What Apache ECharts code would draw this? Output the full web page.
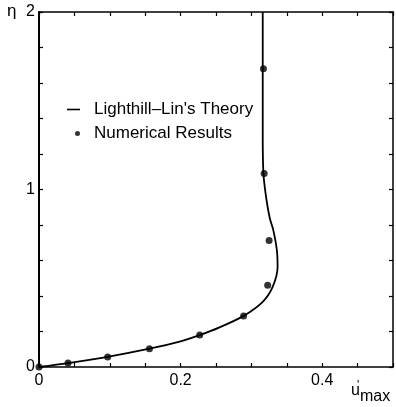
<!DOCTYPE html>
<html>
<head>
<meta charset="utf-8">
<script src="https://cdn.jsdelivr.net/npm/echarts@6/dist/echarts.min.js"></script>
<style>
  html, body { margin: 0; padding: 0; background: #fff; }
  #chart { width: 396px; height: 407px; }
</style>
</head>
<body>
<div id="chart"></div>
<script>
// Lighthill-Lin theory curve (u'max vs eta)
const theoryU = [0, 0.041, 0.093, 0.156, 0.200, 0.226, 0.255, 0.289, 0.316, 0.330, 0.337, 0.336, 0.331, 0.326, 0.321, 0.317, 0.316, 0.316, 0.316];
const theoryEta = [0, 0.022, 0.054, 0.103, 0.145, 0.178, 0.223, 0.288, 0.367, 0.451, 0.563, 0.657, 0.770, 0.838, 0.950, 1.090, 1.310, 1.690, 2.000];

// numerical results (dots)
const numU = [0, 0.041, 0.097, 0.156, 0.227, 0.289, 0.323, 0.325, 0.318, 0.317];
const numEta = [0, 0.022, 0.056, 0.103, 0.180, 0.288, 0.460, 0.713, 1.090, 1.680];

const xTickLabels = [0, 0.2, 0.4];
const yTickLabels = [0, 1, 2];

const font = "'Liberation Sans', Arial, sans-serif";
const ink = "#000";

const near = (v, list) => list.some((t) => Math.abs(v - t) < 1e-6);

const chart = echarts.init(document.getElementById("chart"));

const axisCommon = {
  axisLine: { show: true, onZero: false, lineStyle: { color: ink, width: 1.5 } },
  axisTick: { show: true, inside: true, length: 4, lineStyle: { color: ink, width: 1.2 } },
  splitLine: { show: false },
};

chart.setOption({
  animation: false,
  backgroundColor: "#fff",
  grid: { left: 39, right: 2, top: 12, bottom: 40 },
  xAxis: [
    {
      ...axisCommon,
      type: "value",
      min: 0,
      max: 0.5,
      interval: 0.05,
      position: "bottom",
      axisLabel: {
        color: ink,
        fontFamily: font,
        fontSize: 16,
        margin: 6,
        formatter: (v) => (near(v, xTickLabels) ? (v === 0 ? "0" : v.toFixed(1)) : ""),
      },
    },
    {
      ...axisCommon,
      type: "value",
      min: 0,
      max: 0.5,
      interval: 0.05,
      position: "top",
      axisLabel: { show: false },
    },
  ],
  yAxis: [
    {
      ...axisCommon,
      type: "value",
      min: 0,
      max: 2,
      interval: 0.2,
      position: "left",
      axisLine: { show: true, onZero: false, lineStyle: { color: ink, width: 2 } },
      axisLabel: {
        color: ink,
        fontFamily: font,
        fontSize: 16,
        margin: 4,
        formatter: (v) => (near(v, yTickLabels) ? String(Math.round(v)) : ""),
      },
    },
    {
      ...axisCommon,
      type: "value",
      min: 0,
      max: 2,
      interval: 0.2,
      position: "right",
      axisLabel: { show: false },
    },
  ],
  legend: [
    {
      data: ["Lighthill\u2013Lin's Theory"],
      left: 62,
      top: 96,
      icon: "rect",
      itemWidth: 13,
      itemHeight: 1.6,
      textStyle: { color: ink, fontFamily: font, fontSize: 17, padding: [0, 0, 0, 9] },
    },
    {
      data: ["Numerical Results"],
      left: 70,
      top: 120,
      icon: "circle",
      itemWidth: 5,
      itemHeight: 5,
      textStyle: { color: ink, fontFamily: font, fontSize: 17, padding: [0, 0, 0, 9] },
    },
  ],
  graphic: [
    { type: "text", left: 7, top: 3, style: { text: "\u03b7", fill: ink, font: "17px " + font } },
    { type: "text", left: 351, top: 383, style: { text: "u", fill: ink, font: "16px " + font } },
    { type: "text", left: 357, top: 380, style: { text: "'", fill: ink, font: "12px " + font } },
    { type: "text", left: 360, top: 389, style: { text: "max", fill: ink, font: "16px " + font } },
  ],
  series: [
    {
      name: "Lighthill\u2013Lin's Theory",
      type: "line",
      data: theoryU.map((u, i) => [u, theoryEta[i]]),
      symbol: "none",
      smooth: 0.3,
      lineStyle: { color: ink, width: 1.8 },
      itemStyle: { color: ink },
    },
    {
      name: "Numerical Results",
      type: "scatter",
      data: numU.map((u, i) => [u, numEta[i]]),
      symbol: "circle",
      symbolSize: 7,
      itemStyle: { color: ink },
    },
  ],
});
</script>
</body>
</html>
